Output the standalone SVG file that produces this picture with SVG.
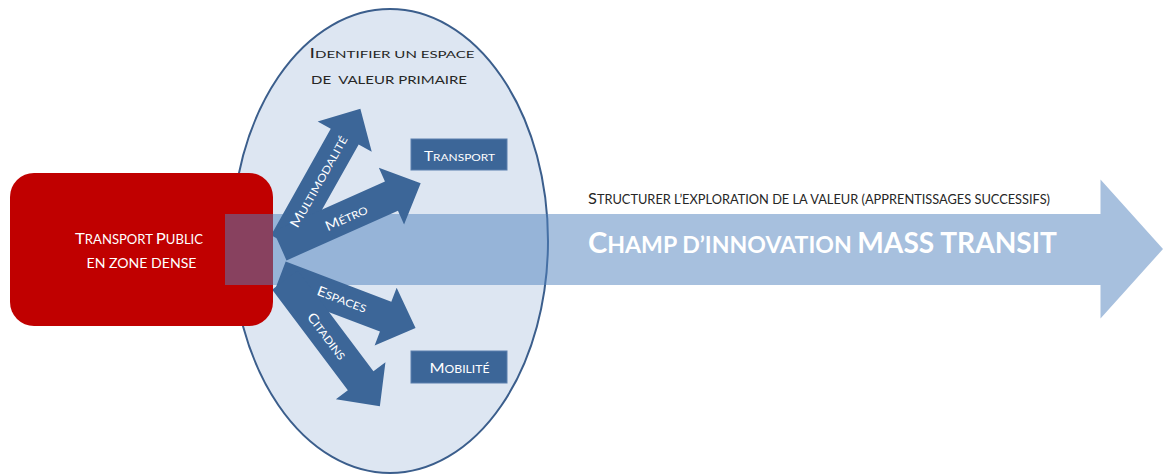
<svg xmlns="http://www.w3.org/2000/svg" width="1163" height="475" viewBox="0 0 1163 475">
  <style>
    text { font-family: Lato, "Liberation Sans", sans-serif; }
    .dark { fill: #262626; }
    .white { fill: #ffffff; }
    .blk { fill: #3c6698; }
    .box { fill: #3c6698; stroke: #5a7fad; stroke-width: 1; }
    .pre { white-space: pre; }
  </style>
  <defs>
    <clipPath id="rightOfRect">
      <rect x="273" y="0" width="890" height="475"/>
    </clipPath>
  </defs>

  <g id="node-value-space">
    <ellipse cx="390" cy="241" rx="158" ry="232" fill="#dde6f2" stroke="#3b5e8c" stroke-width="2"/>
    <text class="dark" x="392" y="57.5" font-size="10" text-anchor="middle" textLength="165" lengthAdjust="spacingAndGlyphs"><tspan font-size="13">I</tspan>DENTIFIER UN ESPACE</text>
    <text class="dark pre" xml:space="preserve" x="389" y="83.5" font-size="10.5" text-anchor="middle" textLength="156" lengthAdjust="spacingAndGlyphs">DE  VALEUR PRIMAIRE</text>
  </g>

  <g id="node-source">
    <rect x="10" y="173" width="263" height="153" rx="24" ry="24" fill="#c00000"/>
    <text class="white" x="139" y="243.5" font-size="12.5" text-anchor="middle" textLength="128" lengthAdjust="spacingAndGlyphs"><tspan font-size="16">T</tspan>RANSPORT <tspan font-size="16">P</tspan>UBLIC</text>
    <text class="white" x="141.5" y="267.5" font-size="12.5" text-anchor="middle" textLength="110" lengthAdjust="spacingAndGlyphs">EN ZONE DENSE</text>
  </g>

  <g id="node-field">
    <polygon points="225,214 1100.5,214 1100.5,179.5 1163,249 1100.5,318.5 1100.5,285 225,285" fill="#4f81bd" fill-opacity="0.5"/>
    <text class="dark" x="819" y="204" font-size="12.5" text-anchor="middle" textLength="462" lengthAdjust="spacingAndGlyphs"><tspan font-size="16">S</tspan>TRUCTURER L’EXPLORATION DE LA VALEUR (APPRENTISSAGES SUCCESSIFS)</text>
    <text class="white" x="822.5" y="252.5" font-size="23" font-weight="bold" text-anchor="middle" textLength="469" lengthAdjust="spacingAndGlyphs"><tspan font-size="29">C</tspan>HAMP D’INNOVATION <tspan font-size="28">MASS TRANSIT</tspan></text>
  </g>

  <g id="connectors" clip-path="url(#rightOfRect)">
    <g id="arrow-multimodalite" transform="translate(285,243) rotate(-60.7)">
      <polygon class="blk" points="0,-16 122,-16 122,-31 154,0 122,31 122,16 0,16"/>
    </g>
    <g id="arrow-metro" transform="translate(280,245.8) rotate(-24)">
      <polygon class="blk" points="0,-16 122,-16 122,-31 154,0 122,31 122,16 0,16"/>
    </g>
    <g id="arrow-espaces" transform="translate(280,276.5) rotate(20.8)">
      <polygon class="blk" points="0,-16 113,-16 113,-31 145,0 113,31 113,16 0,16"/>
    </g>
    <g id="arrow-citadins" transform="translate(285,280) rotate(53.1)">
      <polygon class="blk" points="0,-16 126,-16 126,-31 158,0 126,31 126,16 0,16"/>
    </g>
  </g>

  <g id="connector-labels">
    <text class="white" transform="translate(285,243) rotate(-60.7)" x="70" y="4" font-size="10.5" text-anchor="middle" textLength="103" lengthAdjust="spacingAndGlyphs"><tspan font-size="13.5">M</tspan>ULTIMODALITÉ</text>
    <text class="white" transform="translate(280,245.8) rotate(-24)" x="72" y="6" font-size="10.5" text-anchor="middle" textLength="45" lengthAdjust="spacingAndGlyphs"><tspan font-size="13.5">M</tspan>ÉTRO</text>
    <text class="white" transform="translate(280,276.5) rotate(20.8)" x="66" y="4" font-size="10.5" text-anchor="middle" textLength="52" lengthAdjust="spacingAndGlyphs"><tspan font-size="13.5">E</tspan>SPACES</text>
    <text class="white" transform="translate(285,280) rotate(53.1)" x="70" y="5" font-size="10.5" text-anchor="middle" textLength="55" lengthAdjust="spacingAndGlyphs"><tspan font-size="13.5">C</tspan>ITADINS</text>
  </g>

  <g id="node-transport">
    <rect class="box" x="411" y="139" width="96" height="31"/>
    <text class="white" x="459.5" y="161" font-size="10" text-anchor="middle" textLength="71" lengthAdjust="spacingAndGlyphs"><tspan font-size="13">T</tspan>RANSPORT</text>
  </g>

  <g id="node-mobilite">
    <rect class="box" x="411" y="351" width="96" height="32"/>
    <text class="white" x="459.5" y="372.5" font-size="10.5" text-anchor="middle" textLength="60" lengthAdjust="spacingAndGlyphs"><tspan font-size="14">M</tspan>OBILITÉ</text>
  </g>
</svg>
